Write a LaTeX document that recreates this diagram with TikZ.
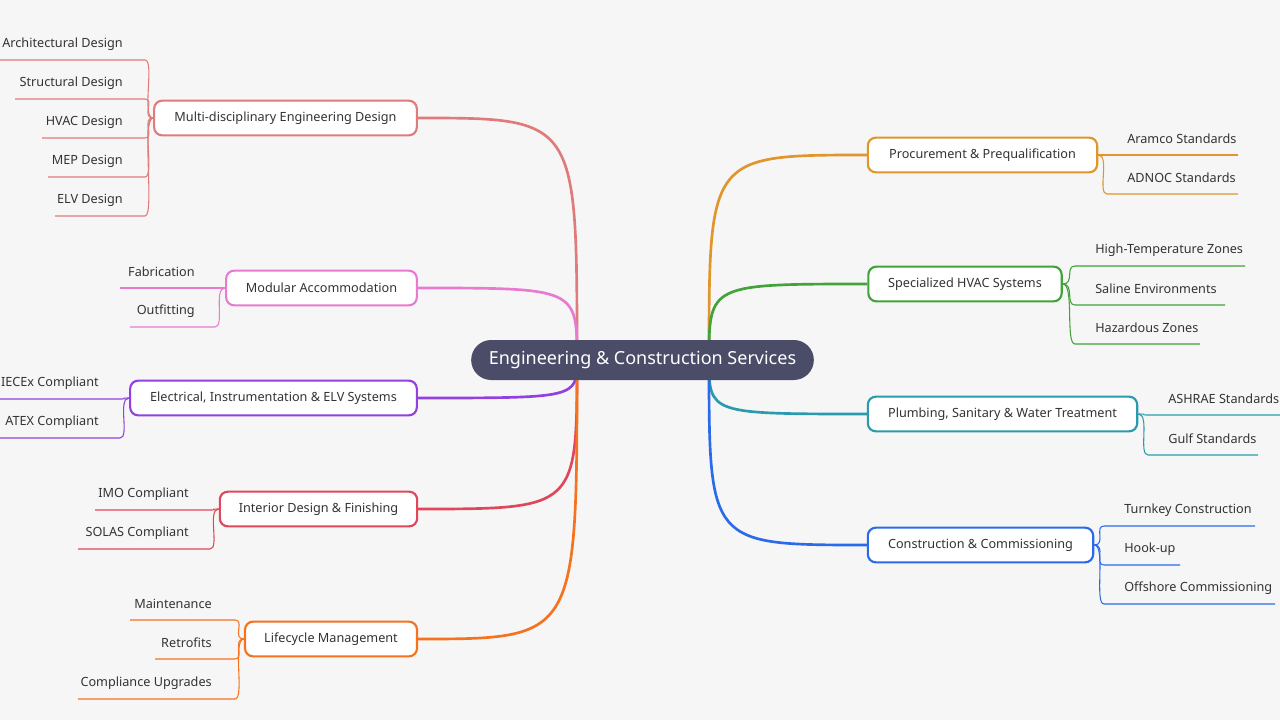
\documentclass[tikz,border=0pt]{standalone}
\usepackage{fontspec}
\setmainfont{Noto Sans}
\usetikzlibrary{calc}
\definecolor{bg}{HTML}{F6F6F6}
\definecolor{cen}{HTML}{4A4C68}
\definecolor{ca}{HTML}{E07B7B}
\definecolor{cb}{HTML}{E87AD2}
\definecolor{cc}{HTML}{9340E0}
\definecolor{cd}{HTML}{E0475A}
\definecolor{ce}{HTML}{F5731F}
\definecolor{cf}{HTML}{E0962A}
\definecolor{cg}{HTML}{41A33A}
\definecolor{ch}{HTML}{2A9BAE}
\definecolor{ci}{HTML}{2A6BEA}
\definecolor{txt}{HTML}{333333}
\tikzset{
 mainbox/.style={draw=#1,line width=1.6pt,fill=white,rounded corners=6pt,minimum height=26pt,inner xsep=0pt,text=txt,font=\fontsize{9.5}{11}\selectfont},
 kid/.style={inner sep=0pt,text=txt,font=\fontsize{9.5}{11}\selectfont},
 kline/.style={draw=#1,line width=0.8pt},
 bline/.style={draw=#1,line width=2pt}
}
\begin{document}
\begin{tikzpicture}[x=0.75pt,y=-0.75pt]
\fill[bg] (0,0) rectangle (1280,720);
\useasboundingbox (0,0) rectangle (1280,720);
\coordinate (sl) at (577,360);
\coordinate (sr) at (709,360);
\node[mainbox=ca,minimum width=197pt] (a) at (285.5,118) {Multi-disciplinary Engineering Design};
\node[mainbox=cb,minimum width=143pt] (b) at (321.5,288) {Modular Accommodation};
\node[mainbox=cc,minimum width=215pt] (c) at (273.5,398) {Electrical, Instrumentation \& ELV Systems};
\node[mainbox=cd,minimum width=148pt] (d) at (318.5,509) {Interior Design \& Finishing};
\node[mainbox=ce,minimum width=129pt] (e) at (331,639) {Lifecycle Management};
\node[mainbox=cf,minimum width=172pt] (f) at (982.5,155) {Procurement \& Prequalification};
\node[mainbox=cg,minimum width=145pt] (g) at (965,284) {Specialized HVAC Systems};
\node[mainbox=ch,minimum width=202pt] (h) at (1002.5,414) {Plumbing, Sanitary \& Water Treatment};
\node[mainbox=ci,minimum width=169pt] (i) at (980.5,545) {Construction \& Commissioning};
\foreach \nn/\cl in {a/ca,b/cb,c/cc,d/cd,e/ce}{
 \draw[bline=\cl] (\nn.east) .. controls (sl |- \nn.east) .. (sl);
}
\foreach \nn/\cl in {f/cf,g/cg,h/ch,i/ci}{
 \draw[bline=\cl] (\nn.west) .. controls (sr |- \nn.west) .. (sr);
}
\node[fill=cen,rounded corners=15pt,minimum width=257pt,minimum height=30pt,text=white,font=\fontsize{13.5}{16}\selectfont] (ctr) at (642.5,360) {Engineering \& Construction Services};
\foreach \nm/\tt/\xr/\uy/\ul/\ur/\pp/\cl in {
 a1/Architectural Design/123/60/0/145/a/ca,
 a2/Structural Design/123/99/15/145/a/ca,
 a3/HVAC Design/123/138/42/145/a/ca,
 a4/MEP Design/123/177/48/145/a/ca,
 a5/ELV Design/123/216/55/145/a/ca,
 b1/Fabrication/195/288/120/215/b/cb,
 b2/Outfitting/195/327/130/215/b/cb,
 c1/IECEx Compliant/99/399/0/120/c/cc,
 c2/ATEX Compliant/99/438/0/120/c/cc,
 d1/IMO Compliant/189/510/95/210/d/cd,
 d2/SOLAS Compliant/189/549/78/210/d/cd,
 e1/Maintenance/212/620/130/235/e/ce,
 e2/Retrofits/212/659/155/235/e/ce,
 e3/Compliance Upgrades/212/699/78/235/e/ce}{
 \node[kid,anchor=east] (\nm) at (\xr,\uy-16) {\tt};
 \coordinate (u\nm) at (\ur,\uy);
 \draw[kline=\cl] (\ul,\uy) -- (u\nm) .. controls ($(u\nm)+(10,0)$) and ($(\pp.west)+(-12,0)$) .. (\pp.west);
}
\foreach \nm/\tt/\xl/\uy/\ul/\ur/\pp/\cl in {
 f1/Aramco Standards/1127/155/1107/1238/f/cf,
 f2/ADNOC Standards/1127/194/1107/1238/f/cf,
 g1/High-Temperature Zones/1095/266/1075/1245/g/cg,
 g2/Saline Environments/1095/305/1075/1225/g/cg,
 g3/Hazardous Zones/1095/344/1075/1200/g/cg,
 h1/ASHRAE Standards/1168/415/1148/1280/h/ch,
 h2/Gulf Standards/1168/455/1148/1258/h/ch,
 i1/Turnkey Construction/1124/526/1104/1255/i/ci,
 i2/Hook-up/1124/565/1104/1180/i/ci,
 i3/Offshore Commissioning/1124/604/1104/1275/i/ci}{
 \node[kid,anchor=west] (\nm) at (\xl,\uy-16) {\tt};
 \coordinate (u\nm) at (\ul,\uy);
 \draw[kline=\cl] (\ur,\uy) -- (u\nm) .. controls ($(u\nm)+(-10,0)$) and ($(\pp.east)+(12,0)$) .. (\pp.east);
}
\end{tikzpicture}
\end{document}
